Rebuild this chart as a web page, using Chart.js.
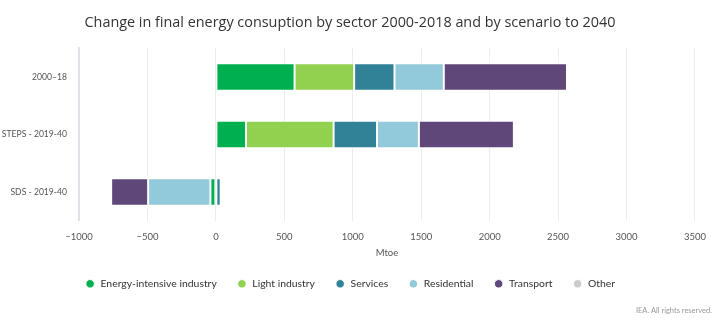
<!DOCTYPE html>
<html>
<head>
<meta charset="utf-8">
<script src="https://cdn.jsdelivr.net/npm/chart.js@4"></script>
<style>
  body { margin: 0; background: #fff; }
  #wrap { position: relative; width: 716px; height: 321px; }
  #credit { position: absolute; right: 4px; bottom: 6px; font: 7.5px Lato, sans-serif; color: #999; }
</style>
</head>
<body>
<div id="wrap">
  <canvas id="chartCanvas" width="716" height="321"></canvas>
  <div id="credit">IEA. All rights reserved.</div>
</div>
<script>
// categories (rows)
var scenarios = ["2000\u201318", "STEPS - 2019-40", "SDS - 2019-40"];

// change in Mtoe by sector
var energyIntensive = [575, 220, -40];
var lightIndustry = [435, 640, 0];
var services = [295, 317, 35];
var residential = [360, 306, -455];
var transport = [900, 694, -270];
var other = [0, 0, 0];

Chart.defaults.font.family = "Lato, sans-serif";
Chart.defaults.color = "#555";

function sector(label, data, color) {
    return {
        label: label,
        data: data,
        backgroundColor: color,
        borderColor: "#ffffff",
        borderWidth: 1,
        borderSkipped: false,
        categoryPercentage: 1,
        barPercentage: 0.48
    };
}

var chart = new Chart("chartCanvas", {
    type: "bar",
    data: {
        labels: scenarios,
        datasets: [
            sector("Energy-intensive industry", energyIntensive, "#00b050"),
            sector("Light industry", lightIndustry, "#92d050"),
            sector("Services", services, "#318197"),
            sector("Residential", residential, "#93cadb"),
            sector("Transport", transport, "#5f4879"),
            sector("Other", other, "#cccccc")
        ]
    },
    options: {
        indexAxis: "y",
        responsive: false,
        animation: false,
        layout: { padding: { left: 2, right: 18, top: 10, bottom: 22 } },
        plugins: {
            title: {
                display: true,
                text: "Change in final energy consuption by sector 2000-2018 and by scenario to 2040",
                color: "#333",
                font: { family: "'Open Sans', sans-serif", size: 14.4, weight: "normal" },
                padding: { top: 4, bottom: 17 }
            },
            legend: {
                position: "bottom",
                labels: {
                    usePointStyle: true,
                    pointStyle: "circle",
                    boxWidth: 10.4,
                    boxHeight: 6,
                    padding: 20,
                    color: "#333",
                    font: { size: 10.4 }
                }
            },
            tooltip: { enabled: false }
        },
        scales: {
            x: {
                stacked: true,
                min: -1000,
                max: 3500,
                ticks: { stepSize: 500, color: "#555", font: { size: 9.5 }, padding: 10,
                    callback: function (v) { return v < 0 ? "\u2212" + Math.abs(v) : v; } },
                grid: { color: "#ececec", drawTicks: false },
                border: { display: false },
                title: { display: true, text: "Mtoe", color: "#555", font: { size: 9.5 }, padding: { top: -5, bottom: 0 } }
            },
            y: {
                stacked: true,
                afterFit: function (scale) { scale.width = 77; },
                ticks: { color: "#555", font: { size: 8.6 }, padding: 12 },
                grid: { display: false, drawTicks: false },
                border: { display: true, color: "#dfe0ea", width: 2 }
            }
        }
    }
});
</script>
</body>
</html>
